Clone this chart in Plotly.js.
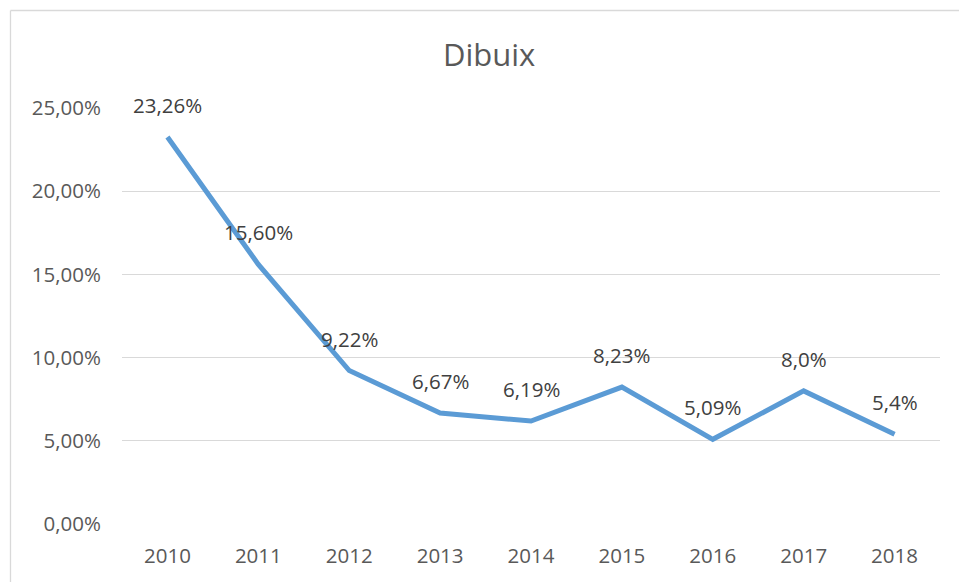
<!DOCTYPE html>
<html>
<head>
<meta charset="utf-8">
<script src="https://cdn.plot.ly/plotly-3.0.1.min.js"></script>
<style>html,body{margin:0;padding:0;background:#fff;}#chart{width:959px;height:582px;}</style>
</head>
<body>
<div id="chart"></div>
<script>
const years = ['2010','2011','2012','2013','2014','2015','2016','2017','2018'];
const values = [23.26, 15.60, 9.22, 6.67, 6.19, 8.23, 5.09, 8.0, 5.4];
const labels = ['23,26%','15,60%','9,22%','6,67%','6,19%','8,23%','5,09%','8,0%','5,4%'];
const yTickVals = [0, 5, 10, 15, 20, 25];
const yTickText = ['0,00%','5,00%','10,00%','15,00%','20,00%','25,00%'];

const FONT = 'Open Sans, Noto Sans, sans-serif';

const trace = {
  x: years,
  y: values,
  type: 'scatter',
  mode: 'lines',
  line: {color: '#5B9BD5', width: 5},
  hoverinfo: 'none',
  cliponaxis: false
};

const annotations = years.map((yr, i) => ({
  x: i, y: values[i], xref: 'x', yref: 'y',
  text: labels[i], showarrow: false,
  xanchor: 'center', yanchor: 'middle', yshift: 32,
  font: {family: FONT, size: 20.5, color: '#404040'}
}));

const layout = {
  width: 959, height: 582,
  margin: {l: 122, r: 19, t: 108, b: 58},
  paper_bgcolor: '#fff', plot_bgcolor: '#fff',
  showlegend: false,
  title: {
    text: 'Dibuix',
    font: {family: FONT, size: 31, color: '#595959'},
    x: 0.51, xref: 'container', xanchor: 'center',
    y: 1 - 55/582, yref: 'container', yanchor: 'middle'
  },
  xaxis: {
    type: 'category',
    range: [-0.5, 8.5],
    showgrid: false, zeroline: false, showline: false,
    ticks: '', ticklabelstandoff: 17,
    tickfont: {family: FONT, size: 20.5, color: '#595959'},
    fixedrange: true
  },
  yaxis: {
    range: [0, 25],
    tickvals: yTickVals, ticktext: yTickText,
    showgrid: true, gridcolor: '#d9d9d9', gridwidth: 1.3,
    zeroline: false, showline: false,
    ticks: '', ticklabelstandoff: 20,
    tickfont: {family: FONT, size: 20.5, color: '#595959'},
    fixedrange: true
  },
  annotations: annotations,
  shapes: [
    {type: 'line', xref: 'paper', yref: 'paper',
     x0: (10.5 - 122)/818, x1: (10.5 - 122)/818, y0: -0.3, y1: (524 - 10.5)/416,
     line: {color: '#d9d9d9', width: 1.3}},
    {type: 'line', xref: 'paper', yref: 'paper',
     x0: (10.5 - 122)/818, x1: 1.2, y0: (524 - 10.5)/416, y1: (524 - 10.5)/416,
     line: {color: '#d9d9d9', width: 1.3}}
  ]
};

Plotly.newPlot('chart', [trace], layout, {staticPlot: true, displayModeBar: false});
</script>
</body>
</html>
